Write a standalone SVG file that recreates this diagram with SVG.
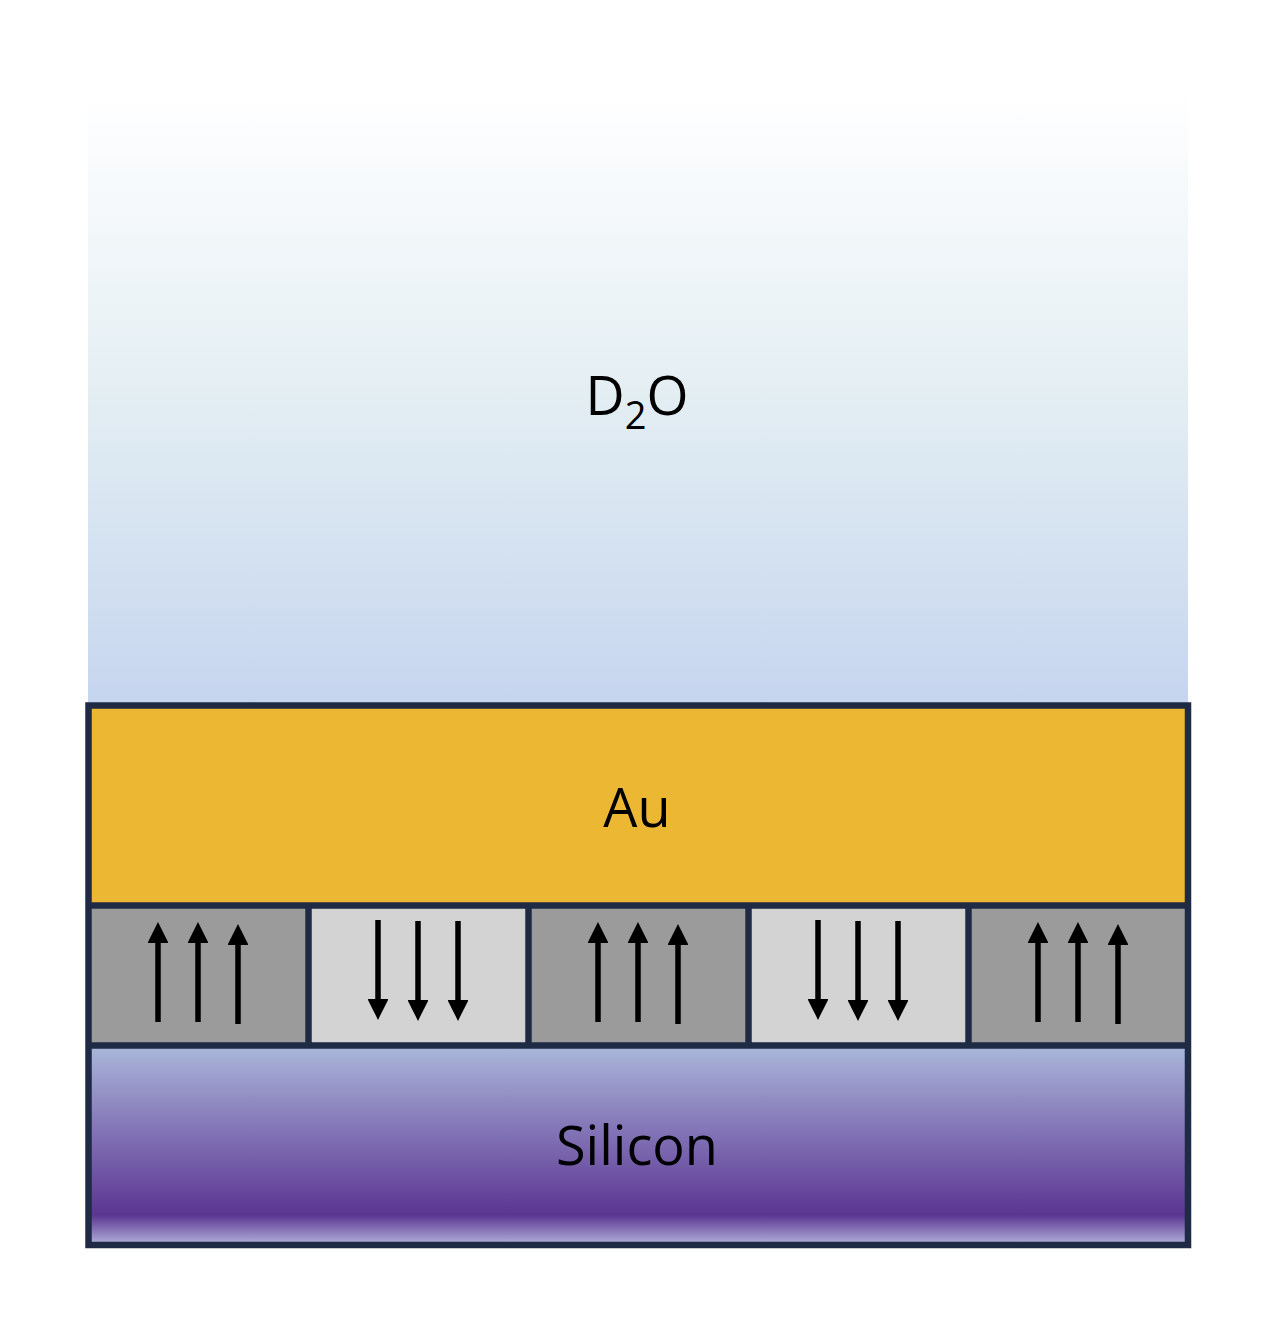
<svg xmlns="http://www.w3.org/2000/svg" width="1262" height="1322" viewBox="0 0 1262 1322">
<defs>
<linearGradient id="water" x1="0" y1="0" x2="0" y2="1">
<stop offset="0" stop-color="#ffffff"/>
<stop offset="0.5" stop-color="#e3eef3"/>
<stop offset="1" stop-color="#c5d5ee"/>
</linearGradient>
<linearGradient id="si" x1="0" y1="0" x2="0" y2="1">
<stop offset="0" stop-color="#aab9da"/>
<stop offset="0.35" stop-color="#8a80bd"/>
<stop offset="0.85" stop-color="#5b3592"/>
<stop offset="1" stop-color="#b4b4dc"/>
</linearGradient>
<marker id="ah" viewBox="0 0 10 10" refX="0" refY="5" markerWidth="3.8" markerHeight="3.8" markerUnits="strokeWidth" orient="auto">
<path d="M0,0 L10,5 L0,10 Z" fill="#000"/>
</marker>
<style>
.lbl{font-family:"Open Sans","Noto Sans",sans-serif;font-size:54px;fill:#000;text-anchor:middle}
.edge{stroke:#1f2a44;stroke-width:6.5;fill:none}
.dark{fill:#9b9b9b}
.light{fill:#d3d3d3}
.arr{stroke:#000;stroke-width:5.5}
</style>
</defs>
<rect width="1262" height="1322" fill="#fff"/>
<g id="d2o">
<rect x="88" y="90" width="1100" height="616" fill="url(#water)"/>
<text class="lbl" x="637" y="415">D<tspan font-size="38" dy="14">2</tspan><tspan dy="-14">O</tspan></text>
</g>
<g id="au">
<rect x="88" y="706" width="1100" height="199" fill="#ecb732"/>
<text class="lbl" x="637" y="827">Au</text>
</g>
<g id="magnetic">
<rect x="88" y="905" width="220" height="140" class="dark"/>
<rect x="308" y="905" width="220" height="140" class="light"/>
<rect x="528" y="905" width="220" height="140" class="dark"/>
<rect x="748" y="905" width="220" height="140" class="light"/>
<rect x="968" y="905" width="220" height="140" class="dark"/>
</g>
<g id="silicon">
<rect x="88" y="1045" width="1100" height="200" fill="url(#si)"/>
<text class="lbl" x="637" y="1165">Silicon</text>
</g>
<g id="arrows">
<g class="arr">
<line x1="158" y1="1022" x2="158" y2="943" marker-end="url(#ah)"/>
<line x1="198" y1="1022" x2="198" y2="943" marker-end="url(#ah)"/>
<line x1="238" y1="1024" x2="238" y2="945" marker-end="url(#ah)"/>
<line x1="378" y1="920" x2="378" y2="999" marker-end="url(#ah)"/>
<line x1="418" y1="921" x2="418" y2="1000" marker-end="url(#ah)"/>
<line x1="458" y1="921" x2="458" y2="1000" marker-end="url(#ah)"/>
<line x1="598" y1="1022" x2="598" y2="943" marker-end="url(#ah)"/>
<line x1="638" y1="1022" x2="638" y2="943" marker-end="url(#ah)"/>
<line x1="678" y1="1024" x2="678" y2="945" marker-end="url(#ah)"/>
<line x1="818" y1="920" x2="818" y2="999" marker-end="url(#ah)"/>
<line x1="858" y1="921" x2="858" y2="1000" marker-end="url(#ah)"/>
<line x1="898" y1="921" x2="898" y2="1000" marker-end="url(#ah)"/>
<line x1="1038" y1="1022" x2="1038" y2="943" marker-end="url(#ah)"/>
<line x1="1078" y1="1022" x2="1078" y2="943" marker-end="url(#ah)"/>
<line x1="1118" y1="1024" x2="1118" y2="945" marker-end="url(#ah)"/>
</g>
</g>
<g id="connectors">
<path class="edge" d="M88.5,705.5 H1188 V1245 H88.5 Z"/>
<line class="edge" x1="88" y1="905.5" x2="1188" y2="905.5"/>
<line class="edge" x1="88" y1="1045.5" x2="1188" y2="1045.5"/>
<line class="edge" x1="308.5" y1="905" x2="308.5" y2="1045"/>
<line class="edge" x1="528.5" y1="905" x2="528.5" y2="1045"/>
<line class="edge" x1="748.5" y1="905" x2="748.5" y2="1045"/>
<line class="edge" x1="968.5" y1="905" x2="968.5" y2="1045"/>
</g>
</svg>
